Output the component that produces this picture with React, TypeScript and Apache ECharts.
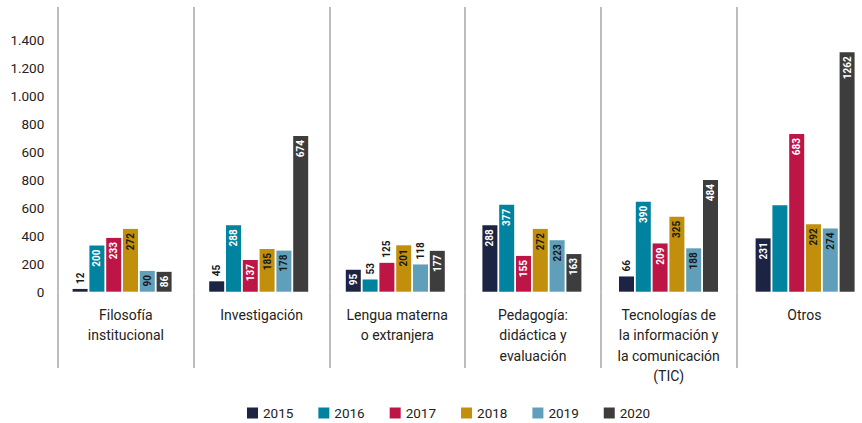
import React, { useEffect, useRef } from 'react';
import * as echarts from 'echarts';

const categories = [
  'Filosofía\ninstitucional',
  'Investigación',
  'Lengua materna\no extranjera',
  'Pedagogía:\ndidáctica y\nevaluación',
  'Tecnologías de\nla información y\nla comunicación\n(TIC)',
  'Otros',
];
const years = ['2015', '2016', '2017', '2018', '2019', '2020'];
const values2015 = [12, 45, 95, 288, 66, 231];
const values2016 = [200, 288, 53, 377, 390, 375];
const values2017 = [233, 137, 125, 155, 209, 683];
const values2018 = [272, 185, 201, 272, 325, 292];
const values2019 = [90, 178, 118, 223, 188, 274];
const values2020 = [86, 674, 177, 163, 484, 1262];
const yTickLabels = ['0', '200', '400', '600', '800', '600', '800', '1.000', '1.200', '1.400'];

const seriesValues = [values2015, values2016, values2017, values2018, values2019, values2020];
const colors = ['#1d2343', '#00839f', '#bd1646', '#c18f0b', '#5f9fb9', '#3d3d3d'];
const labelColors = ['#ffffff', '#ffffff', '#ffffff', '#1a1a1a', '#1a1a1a', '#ffffff'];
// label placement (series-category)
const outsideLabels = new Set(['0-0', '0-1', '1-2', '2-2', '4-2', '0-4']);
const hiddenLabels = new Set(['1-5']);

const FONT = 'Roboto, "Noto Sans", sans-serif';
const TEXT = '#222222';
const SEP = '#adadad';

export default function App() {
  const ref = useRef<HTMLDivElement>(null);
  useEffect(() => {
    if (!ref.current) return;
    const chart = echarts.init(ref.current, undefined, { renderer: 'svg' });
    const series = seriesValues.map((vals, s) => ({
      name: years[s],
      type: 'bar',
      xAxisIndex: 0,
      yAxisIndex: 0,
      barWidth: 15,
      barGap: '12%',
      clip: true,
      itemStyle: { color: colors[s] },
      data: vals.map((v, c) => {
        const key = `${s}-${c}`;
        if (hiddenLabels.has(key)) return { value: v, label: { show: false } };
        if (outsideLabels.has(key))
          return {
            value: v,
            label: {
              show: true,
              position: 'top',
              rotate: 90,
              align: 'left',
              verticalAlign: 'middle',
              distance: 5,
              color: '#1a1a1a',
            },
          };
        return v;
      }),
      label: {
        show: true,
        position: 'insideTop',
        rotate: 90,
        align: 'right',
        verticalAlign: 'middle',
        distance: 4,
        color: labelColors[s],
        fontFamily: FONT,
        fontWeight: 'bold',
        fontSize: 10,
      },
    }));
    chart.setOption({
      animation: false,
      backgroundColor: '#ffffff',
      textStyle: { fontFamily: FONT },
      legend: {
        data: years,
        left: 242,
        top: 401,
        icon: 'rect',
        itemWidth: 11,
        itemHeight: 11,
        itemGap: 25,
        textStyle: { fontSize: 13.5, color: TEXT, fontFamily: FONT },
      },
      grid: [
        { left: 53.8, top: 52.3, width: 819.6, height: 239.4 },
        { left: 58, top: 7, width: 814.2, height: 284.7 },
      ],
      xAxis: [
        { type: 'category', gridIndex: 0, data: categories, show: false },
        {
          type: 'category',
          gridIndex: 1,
          data: categories,
          axisLine: { show: false },
          axisTick: { show: true, interval: 0, length: 76.3, lineStyle: { color: SEP, width: 1.6 } },
          splitLine: { show: true, interval: 0, lineStyle: { color: SEP, width: 1.6 } },
          axisLabel: {
            interval: 0,
            fontSize: 14,
            lineHeight: 20.5,
            margin: 13,
            color: TEXT,
            fontFamily: FONT,
          },
        },
      ],
      yAxis: [
        { type: 'value', gridIndex: 0, min: 0, max: 1037, show: false },
        {
          type: 'value',
          gridIndex: 1,
          min: 0,
          max: 10.18,
          interval: 1,
          axisLine: { show: false },
          axisTick: { show: false },
          splitLine: { show: false },
          axisLabel: {
            fontSize: 13.5,
            color: TEXT,
            margin: 13.7,
            fontFamily: FONT,
            formatter: (v: number) => {
              const r = Math.round(v);
              return Math.abs(v - r) < 1e-6 && r < yTickLabels.length ? yTickLabels[r] : '';
            },
          },
        },
      ],
      series,
    });
    return () => chart.dispose();
  }, []);
  return (
    <div
      ref={ref}
      style={{ position: 'fixed', left: 0, top: 0, width: 900, height: 423, background: '#fff' }}
    />
  );
}
